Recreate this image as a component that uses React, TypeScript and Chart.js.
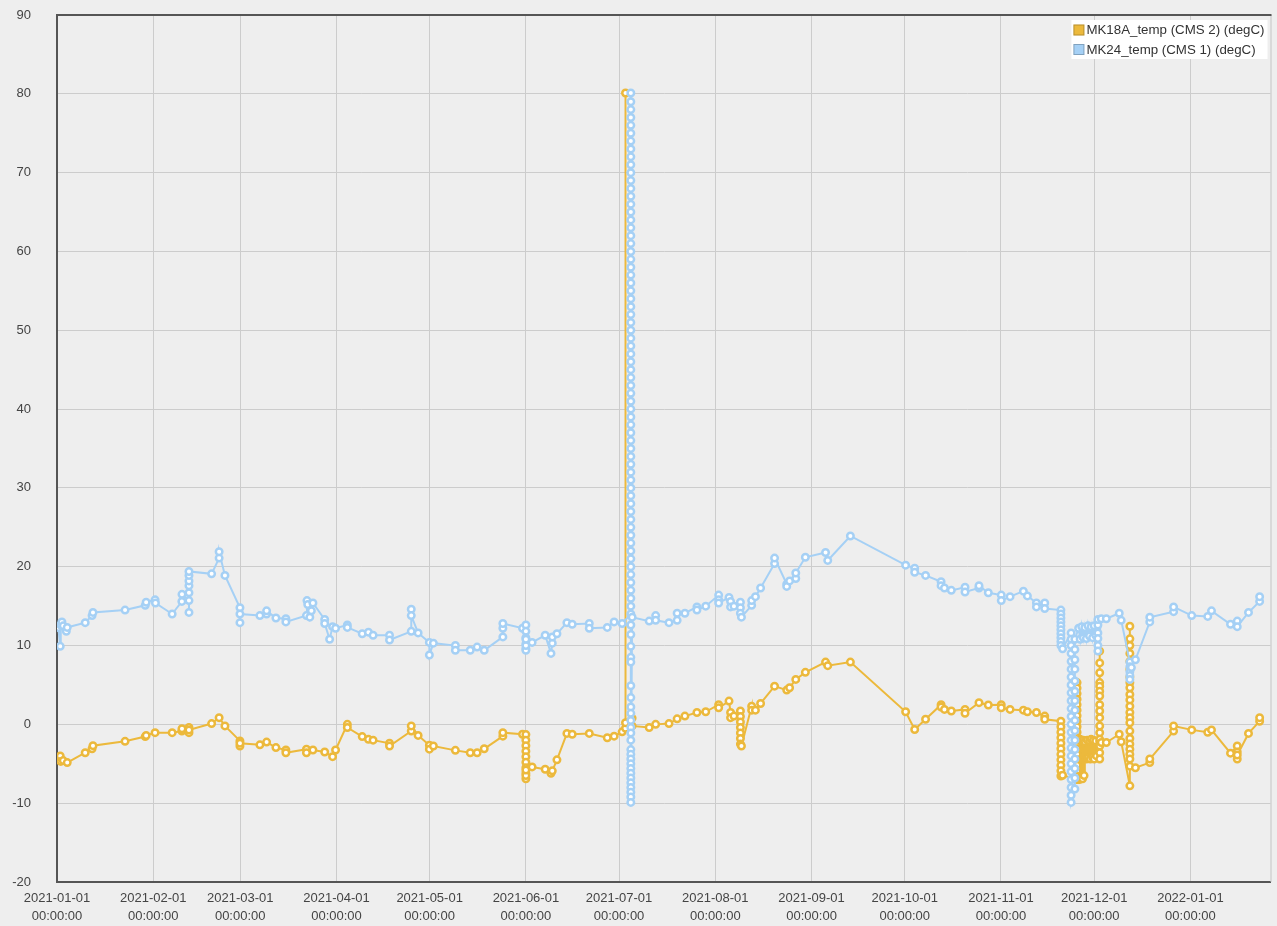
import { useEffect, useRef } from "react";
import { Chart, registerables } from "chart.js";

Chart.register(...registerables);

// ---------- data ----------
const xTickDates = [
  "2021-01-01", "2021-02-01", "2021-03-01", "2021-04-01", "2021-05-01", "2021-06-01", "2021-07-01",
  "2021-08-01", "2021-09-01", "2021-10-01", "2021-11-01", "2021-12-01", "2022-01-01",
];
const xTickTime = "00:00:00";
const xMin = "2021-01-01T00:00";
const xMax = "2022-01-26T19:00";
const yMin = -20;
const yMax = 90;
const yStep = 10;

const seriesNames = ["MK18A_temp (CMS 2) (degC)", "MK24_temp (CMS 1) (degC)"];
const seriesColors = ["rgb(236,185,60)", "rgb(165,208,245)"];

// MK18A_temp (CMS 2) — a list entry may hold several readings taken at the same moment
const orangeTimes = [
  "2021-01-01T12:00", "2021-01-02T01:00", "2021-01-02T05:00", "2021-01-03T00:00", "2021-01-04T07:00",
  "2021-01-10T02:00", "2021-01-12T07:00", "2021-01-12T14:00", "2021-01-22T22:00", "2021-01-29T10:00",
  "2021-01-29T17:00", "2021-02-01T14:00", "2021-02-07T02:00", "2021-02-10T05:00", "2021-02-10T06:00",
  "2021-02-12T12:00", "2021-02-19T19:00", "2021-02-22T05:00", "2021-02-24T02:00", "2021-02-28T22:00",
  "2021-03-07T08:00", "2021-03-09T12:00", "2021-03-12T12:00", "2021-03-15T17:00", "2021-03-22T08:00",
  "2021-03-24T10:00", "2021-03-28T05:00", "2021-03-30T18:00", "2021-03-31T17:00", "2021-04-04T12:00",
  "2021-04-09T07:00", "2021-04-11T07:00", "2021-04-12T19:00", "2021-04-18T02:00", "2021-04-25T02:00",
  "2021-04-27T07:00", "2021-04-30T22:00", "2021-05-02T05:00", "2021-05-09T07:00", "2021-05-14T02:00",
  "2021-05-16T07:00", "2021-05-18T14:00", "2021-05-24T14:00", "2021-05-30T22:00", "2021-06-01T00:00",
  "2021-06-03T00:00", "2021-06-07T05:00", "2021-06-09T02:00", "2021-06-09T12:00", "2021-06-11T00:00",
  "2021-06-14T05:00", "2021-06-15T22:00", "2021-06-21T10:00", "2021-06-27T05:00", "2021-06-29T10:00",
  "2021-07-02T00:00", "2021-07-03T02:00", "2021-07-05T05:00", "2021-07-10T17:00", "2021-07-12T19:00",
  "2021-07-17T02:00", "2021-07-19T17:00", "2021-07-22T05:00", "2021-07-26T02:00", "2021-07-28T22:00",
  "2021-08-02T02:00", "2021-08-05T10:00", "2021-08-05T22:00", "2021-08-07T00:00", "2021-08-09T02:00",
  "2021-08-09T10:00", "2021-08-12T17:00", "2021-08-13T22:00", "2021-08-15T14:00", "2021-08-20T02:00",
  "2021-08-24T00:00", "2021-08-24T22:00", "2021-08-26T22:00", "2021-08-30T00:00", "2021-09-05T12:00",
  "2021-09-06T05:00", "2021-09-13T12:00", "2021-10-01T07:00", "2021-10-04T05:00", "2021-10-07T17:00",
  "2021-10-12T17:00", "2021-10-13T19:00", "2021-10-16T00:00", "2021-10-20T10:00", "2021-10-24T22:00",
  "2021-10-27T22:00", "2021-11-01T02:00", "2021-11-03T22:00", "2021-11-08T05:00", "2021-11-09T12:00",
  "2021-11-12T10:00", "2021-11-15T02:00", "2021-11-20T07:00", "2021-11-20T20:00", "2021-11-25T12:00",
  "2021-11-26T00:00", "2021-11-26T06:00", "2021-11-26T12:00", "2021-11-26T18:00", "2021-11-27T00:00",
  "2021-11-27T06:00", "2021-11-27T12:00", "2021-11-27T18:00", "2021-11-28T00:00", "2021-11-28T12:00",
  "2021-11-28T18:00", "2021-11-29T00:00", "2021-11-29T12:00", "2021-11-29T18:00", "2021-11-30T00:00",
  "2021-11-30T12:00", "2021-11-30T18:00", "2021-12-01T00:00", "2021-12-01T12:00", "2021-12-01T18:00",
  "2021-12-02T19:00", "2021-12-03T07:00", "2021-12-04T22:00", "2021-12-09T02:00", "2021-12-09T17:00",
  "2021-12-12T12:00", "2021-12-14T07:00", "2021-12-18T22:00", "2021-12-26T14:00", "2022-01-01T10:00",
  "2022-01-06T14:00", "2022-01-07T19:00", "2022-01-13T22:00", "2022-01-16T02:00", "2022-01-19T17:00",
  "2022-01-23T07:00",
];
const orangeValues: (number | number[])[] = [
  -4.2, -4.0, -4.7, -4.6, -4.85,
  -3.6, -3.1, -2.7, -2.15, -1.55,
  -1.4, -1.05, -1.05, -0.85, -0.55,
  [-0.4, -1.05, -0.7], 0.1, 0.85, -0.2, [-2.1, -2.75, -2.4],
  -2.6, -2.25, -2.95, [-3.25, -3.6], [-3.15, -3.6],
  -3.25, -3.5, -4.1, -3.25, [0.0, -0.4],
  -1.55, -1.9, -2.0, [-2.4, -2.75], [-0.85, -0.2],
  -1.4, [-2.65, -3.15], -2.75, -3.3, -3.6,
  -3.6, -3.1, [-1.5, -1.05], -1.25, [-1.3, -2.0, -2.7, -3.4, -4.1, -4.8, -5.5, -6.2, -6.9, -6.5, -5.8],
  -5.4, -5.7, -6.2, -5.9, -4.5,
  -1.15, -1.25, -1.15, -1.7, -1.5,
  -0.95, [-0.5, 80.1, 0.2], [0.8, -0.2], -0.4, 0.0,
  0.1, 0.7, 1.05, 1.5, 1.6,
  [2.5, 2.1], 2.95, [1.5, 0.85], 1.05, [1.7, 1.0, 0.3, -0.4, -1.1, -1.8, -2.5],
  -2.75, [2.3, 1.8], 1.8, 2.65, 4.85,
  4.35, 4.65, 5.7, 6.6, 7.9,
  7.45, 7.9, 1.6, -0.65, 0.65,
  [2.5, 2.2], 1.9, 1.7, [1.9, 1.4], 2.75,
  2.45, [2.5, 2.1], 1.9, 1.8, 1.6,
  1.5, [1.05, 0.65], [0.4, -0.3, -1.0, -1.7, -2.4, -3.1, -3.8, -4.5, -5.2, -5.9, -6.55], -6.45,
  [-7.0, 5.3, 4.6, 3.9, 3.2, 2.5, 1.8, 1.1, 0.4, -0.3, -1.0, -1.7, -2.4, -3.1, -3.8, -4.5, -5.2, -5.9, -6.6],
  -2.0, -7.0, -1.9, -6.8, -2.1,
  -6.9, -2.0, -6.5, -2.2, -4.4,
  -2.0, -4.3, -2.1, -4.4, -1.9,
  -4.2, -2.0, -4.4, -2.1, -4.0,
  [-2.2, 9.3, 7.8, 6.55, 5.3, 4.85, 4.2, 3.6, 2.5, 1.7, 0.85, -0.2, -1.05, -1.9, -2.75, -3.6, -4.4], -2.3, -2.3, -1.25, -2.2,
  [-7.8, 12.45, 10.85, 10.0, 9.0, 8.0, 7.0, 6.0, 5.3, 4.65, 3.8, 3.1, 2.3, 1.5, 0.85, 0.2, -0.85, -1.8, -2.5, -3.15, -3.8, -4.4, -5.3],
  -5.5, [-4.85, -4.4], [-0.85, -0.2], -0.7,
  -1.0, -0.7, -3.65, [-2.75, -3.5, -4.4, -3.9], -1.15,
  [0.4, 0.85],
];

// MK24_temp (CMS 1)
const blueTimes = [
  "2021-01-01T10:00", "2021-01-02T01:00", "2021-01-02T05:00", "2021-01-02T14:00", "2021-01-03T00:00",
  "2021-01-04T00:00", "2021-01-04T07:00", "2021-01-10T02:00", "2021-01-12T07:00", "2021-01-12T14:00",
  "2021-01-22T22:00", "2021-01-29T10:00", "2021-01-29T17:00", "2021-02-01T14:00", "2021-02-01T17:00",
  "2021-02-07T02:00", "2021-02-10T05:00", "2021-02-10T06:00", "2021-02-12T12:00", "2021-02-19T19:00",
  "2021-02-22T05:00", "2021-02-24T02:00", "2021-02-28T22:00", "2021-03-07T08:00", "2021-03-09T12:00",
  "2021-03-12T12:00", "2021-03-15T17:00", "2021-03-22T08:00", "2021-03-22T12:00", "2021-03-22T18:00",
  "2021-03-23T10:00", "2021-03-23T22:00", "2021-03-24T10:00", "2021-03-28T05:00", "2021-03-29T19:00",
  "2021-03-30T18:00", "2021-03-31T17:00", "2021-04-04T12:00", "2021-04-09T07:00", "2021-04-11T07:00",
  "2021-04-12T19:00", "2021-04-18T02:00", "2021-04-25T02:00", "2021-04-27T07:00", "2021-04-30T22:00",
  "2021-05-02T05:00", "2021-05-09T07:00", "2021-05-14T02:00", "2021-05-16T07:00", "2021-05-18T14:00",
  "2021-05-24T14:00", "2021-05-30T22:00", "2021-06-01T00:00", "2021-06-03T00:00", "2021-06-07T05:00",
  "2021-06-09T02:00", "2021-06-09T12:00", "2021-06-11T00:00", "2021-06-14T05:00", "2021-06-15T22:00",
  "2021-06-21T10:00", "2021-06-27T05:00", "2021-06-29T10:00", "2021-07-02T00:00", "2021-07-04T19:00",
  "2021-07-05T05:00", "2021-07-10T17:00", "2021-07-12T19:00", "2021-07-17T02:00", "2021-07-19T17:00",
  "2021-07-22T05:00", "2021-07-26T02:00", "2021-07-28T22:00", "2021-08-02T02:00", "2021-08-05T10:00",
  "2021-08-05T22:00", "2021-08-07T00:00", "2021-08-09T02:00", "2021-08-09T10:00", "2021-08-12T17:00",
  "2021-08-13T22:00", "2021-08-15T14:00", "2021-08-20T02:00", "2021-08-24T00:00", "2021-08-24T22:00",
  "2021-08-26T22:00", "2021-08-30T00:00", "2021-09-05T12:00", "2021-09-06T05:00", "2021-09-13T12:00",
  "2021-10-01T07:00", "2021-10-04T05:00", "2021-10-07T17:00", "2021-10-12T17:00", "2021-10-13T19:00",
  "2021-10-16T00:00", "2021-10-20T10:00", "2021-10-24T22:00", "2021-10-27T22:00", "2021-11-01T02:00",
  "2021-11-03T22:00", "2021-11-08T05:00", "2021-11-09T12:00", "2021-11-12T10:00", "2021-11-15T02:00",
  "2021-11-20T07:00", "2021-11-20T20:00", "2021-11-23T14:00", "2021-11-24T19:00", "2021-11-26T00:00",
  "2021-11-26T12:00", "2021-11-27T00:00", "2021-11-27T12:00", "2021-11-28T00:00", "2021-11-28T12:00",
  "2021-11-29T00:00", "2021-11-29T12:00", "2021-11-30T00:00", "2021-11-30T12:00", "2021-12-01T00:00",
  "2021-12-01T12:00", "2021-12-02T05:00", "2021-12-03T07:00", "2021-12-04T22:00", "2021-12-09T02:00",
  "2021-12-09T17:00", "2021-12-12T12:00", "2021-12-13T00:00", "2021-12-14T07:00", "2021-12-18T22:00",
  "2021-12-26T14:00", "2022-01-01T10:00", "2022-01-06T14:00", "2022-01-07T19:00", "2022-01-13T22:00",
  "2022-01-16T02:00", "2022-01-19T17:00", "2022-01-23T07:00",
];
const blueSpikeValues = [
  14, 15, 16, 17, 18, 19, 20, 21, 22, 23, 24, 25, 26, 27, 28, 29, 30, 31, 32, 33, 34, 35, 36, 37, 38, 39,
  40, 41, 42, 43, 44, 45, 46, 47, 48, 49, 50, 51, 52, 53, 54, 55, 56, 57, 58, 59, 60, 61, 62, 63, 64, 65,
  66, 67, 68, 69, 70, 71, 72, 73, 74, 75, 76, 77, 78, 79, 80.1,
  12.6, 11.4, 9.9, 8.5, 7.9, 4.9, 3.4, 2.2, 1.4, 0.5, -0.4, -1.1, -2.0,
  -3.2, -3.8, -4.4, -5.0, -5.6, -6.2, -6.8, -7.4, -8.0, -8.6, -9.2, -9.9,
];
const blueValues: (number | number[])[] = [
  12.3, 9.9, 12.6, 13.0, 12.5,
  11.8, 12.3, 12.9, 13.8, 14.2,
  14.5, 15.1, 15.5, 15.8, 15.4,
  14.0, 15.6, 16.5, [15.7, 14.2, 16.7, 17.6, 18.2, 18.9, 19.4], 19.1,
  [21.1, 21.9], 18.9, [14.8, 12.9, 14.0], 13.8, [14.0, 14.4],
  13.5, [13.4, 13.0], 13.8, 15.7, 15.2,
  13.6, 14.4, 15.4, [13.3, 12.8], 10.8,
  12.4, 12.2, [12.6, 12.3], 11.5, 11.7,
  11.3, [11.3, 10.7], [11.8, 14.6, 13.8], 11.6, [10.4, 8.8],
  10.3, [10.0, 9.4], 9.4, 9.8, 9.4,
  [11.1, 12.2, 12.8], 12.2, [12.6, 11.8, 11.0, 10.2, 9.6, 9.4, 10.0, 10.8], 10.4, 11.3,
  9.0, [10.3, 11.1], 11.5, 12.9, 12.7,
  [12.8, 12.2], 12.3, 13.0, 12.8, blueSpikeValues,
  13.6, 13.1, [13.8, 13.2], 12.9, [13.2, 14.1],
  14.1, [14.9, 14.5], 15.0, [16.4, 15.8, 15.4], 16.1,
  [15.6, 14.9], 15.0, [15.5, 14.8, 14.1], 13.6, [15.1, 15.7],
  16.2, 17.3, [20.4, 21.1], [17.8, 17.5], 18.2,
  [18.5, 19.2], 21.2, 21.8, 20.8, 23.9,
  20.2, [19.8, 19.3], 18.9, [18.1, 17.6], 17.3,
  17.0, [17.4, 16.8], [17.3, 17.6], 16.7, [16.4, 15.7],
  16.2, 16.9, 16.3, [15.4, 14.9], [15.4, 14.7],
  [14.5, 14.0, 13.5, 13.0, 12.5, 12.0, 11.5, 11.0, 10.5, 10.0], 9.6,
  [11.6, 10.8, 10.0, 9.0, 8.0, 7.0, 6.0, 5.0, 4.0, 3.0, 2.0, 1.0, 0.0, -1.0, -2.0, -3.0, -4.0, -5.0, -6.0, -7.0, -8.0, -9.0, -9.9],
  [-8.2, -6.8, -5.6, -4.4, -3.2, -2.0, -0.8, 0.5, 1.8, 3.0, 4.2, 5.5, 7.0, 8.2, 9.5, 10.8], 12.2,
  10.8, 12.4, 11.0, 12.3, 10.9,
  12.5, 11.2, 12.4, 11.0, 12.5,
  11.3, [12.6, 13.3, 11.6, 10.9, 10.0, 9.3], 13.4, 13.4, 14.1,
  13.2, [7.9, 7.3, 6.7, 6.2, 5.7], 7.2, 8.2, [13.0, 13.6],
  [14.3, 14.9], 13.8, 13.7, 14.4, 12.7,
  [13.1, 12.4], 14.2, [15.6, 16.2],
];

// ---------- helpers ----------
const toMs = (s: string) => Date.parse(s.length === 10 ? s + "T00:00Z" : s + "Z");

function buildPoints(times: string[], values: (number | number[])[]) {
  const pts: { x: number; y: number }[] = [];
  times.forEach((t, i) => {
    const x = toMs(t);
    const v = values[i];
    if (v === undefined) return;
    (Array.isArray(v) ? v : [v]).forEach((y) => pts.push({ x, y }));
  });
  return pts;
}

const FONT = "'Liberation Sans', Arial, Helvetica, sans-serif";

const framePlugin = {
  id: "frame",
  beforeDraw(chart: any) {
    const { ctx, width, height } = chart;
    ctx.save();
    ctx.fillStyle = "#eeeeee";
    ctx.fillRect(0, 0, width, height);
    ctx.restore();
  },
  afterDraw(chart: any) {
    const { ctx, chartArea: a } = chart;
    ctx.save();
    // top & right frame
    ctx.strokeStyle = "#c4c4c4";
    ctx.lineWidth = 1;
    ctx.beginPath();
    ctx.moveTo(a.right + 0.5, a.top);
    ctx.lineTo(a.right + 0.5, a.bottom);
    ctx.stroke();
    ctx.strokeStyle = "#555555";
    ctx.lineWidth = 2;
    ctx.beginPath();
    ctx.moveTo(a.left - 1, a.top);
    ctx.lineTo(a.right + 1, a.top);
    ctx.stroke();

    // legend
    ctx.font = `13.3px ${FONT}`;
    const textW = Math.max(...seriesNames.map((n) => ctx.measureText(n).width));
    const sw = 11;
    const boxW = 2 + sw + 2 + textW + 3;
    const boxH = 39;
    const bx = a.right - 3 - boxW;
    const by = a.top + 5;
    ctx.fillStyle = "#ffffff";
    ctx.fillRect(bx, by, boxW, boxH);
    seriesNames.forEach((name, i) => {
      const cy = by + 10 + i * 19.5;
      ctx.fillStyle = seriesColors[i];
      ctx.fillRect(bx + 2, cy - sw / 2, sw, sw);
      ctx.strokeStyle = "rgba(0,0,0,0.22)";
      ctx.lineWidth = 1;
      ctx.strokeRect(bx + 2.5, cy - sw / 2 + 0.5, sw - 1, sw - 1);
      ctx.fillStyle = "#333333";
      ctx.textAlign = "left";
      ctx.textBaseline = "middle";
      ctx.fillText(name, bx + 2 + sw + 2, cy + 0.5);
    });
    ctx.restore();
  },
};

export default function App() {
  const ref = useRef<HTMLCanvasElement | null>(null);

  useEffect(() => {
    document.body.style.margin = "0";
    document.body.style.background = "#eeeeee";
    if (!ref.current) return;
    const tickMs = xTickDates.map(toMs);
    const chart = new Chart(ref.current, {
      type: "line",
      data: {
        datasets: [
          {
            label: seriesNames[0],
            data: buildPoints(orangeTimes, orangeValues),
            borderColor: seriesColors[0],
            pointBorderColor: seriesColors[0],
            pointBackgroundColor: "#ffffff",
            order: 1,
          },
          {
            label: seriesNames[1],
            data: buildPoints(blueTimes, blueValues),
            borderColor: seriesColors[1],
            pointBorderColor: seriesColors[1],
            pointBackgroundColor: "#ffffff",
            order: 0,
          },
        ],
      },
      options: {
        animation: false,
        responsive: false,
        devicePixelRatio: 1,
        events: [],
        layout: { padding: { top: 15, right: 4, left: 0, bottom: 0 } },
        elements: {
          line: { tension: 0, borderWidth: 2 },
          point: { radius: 3.25, borderWidth: 2.5 },
        },
        plugins: {
          legend: { display: false },
          tooltip: { enabled: false },
        },
        scales: {
          x: {
            type: "linear",
            min: toMs(xMin),
            max: toMs(xMax),
            afterBuildTicks: (s: any) => {
              s.ticks = tickMs.map((v) => ({ value: v }));
            },
            afterFit: (s: any) => {
              s.height = 44;
              s.paddingRight = 0;
            },
            ticks: {
              autoSkip: false,
              maxRotation: 0,
              minRotation: 0,
              padding: 7,
              color: "#444444",
              font: { family: FONT, size: 13, lineHeight: 1.4 },
              callback: (_v: any, i: number) => [xTickDates[i], xTickTime],
            },
            grid: { color: "#cccccc", lineWidth: 1, drawTicks: false },
            border: { color: "#555555", width: 2 },
          },
          y: {
            min: yMin,
            max: yMax,
            afterFit: (s: any) => {
              s.width = 57;
              s.paddingTop = 0;
              s.paddingBottom = 0;
            },
            ticks: {
              stepSize: yStep,
              padding: 26,
              color: "#444444",
              font: { family: FONT, size: 13 },
            },
            grid: { color: "#cccccc", lineWidth: 1, drawTicks: false },
            border: { color: "#555555", width: 2 },
          },
        },
      },
      plugins: [framePlugin],
    } as any);
    return () => chart.destroy();
  }, []);

  return (
    <div style={{ width: 1277, height: 926 }}>
      <canvas ref={ref} width={1277} height={926} style={{ display: "block" }} />
    </div>
  );
}
